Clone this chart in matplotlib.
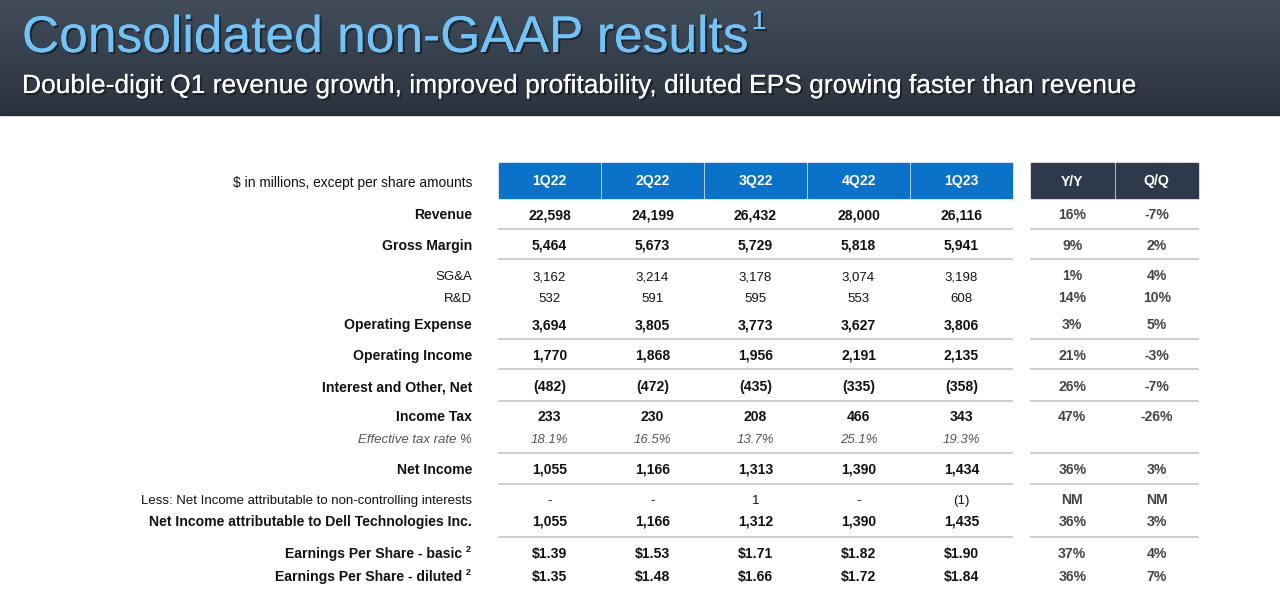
import numpy as np
import matplotlib
matplotlib.use('Agg')
import matplotlib.pyplot as plt
from matplotlib.patches import Rectangle
from matplotlib.colors import LinearSegmentedColormap
import matplotlib.patheffects as pe

plt.rcParams['font.family'] = ['Liberation Sans', 'DejaVu Sans']

#%% Data
title = 'Consolidated non-GAAP results'
subtitle = 'Double-digit Q1 revenue growth, improved profitability, diluted EPS growing faster than revenue'
unit_note = '$ in millions, except per share amounts'
quarters = ['1Q22', '2Q22', '3Q22', '4Q22', '1Q23']
change_cols = ['Y/Y', 'Q/Q']

row_labels = ['Revenue', 'Gross Margin', 'SG&A', 'R&D', 'Operating Expense',
              'Operating Income', 'Interest and Other, Net', 'Income Tax',
              'Effective tax rate %', 'Net Income',
              'Less: Net Income attributable to non-controlling interests',
              'Net Income attributable to Dell Technologies Inc.',
              'Earnings Per Share - basic', 'Earnings Per Share - diluted']
row_style = ['bold', 'bold', 'normal', 'normal', 'bold', 'bold', 'bold', 'bold',
             'italic', 'bold', 'normal', 'bold', 'bold', 'bold']
row_kind = ['int', 'int', 'int', 'int', 'int', 'int', 'int', 'int',
            'pct', 'int', 'int', 'int', 'eps', 'eps']
footnote_rows = ['Earnings Per Share - basic', 'Earnings Per Share - diluted']

revenue = [22598, 24199, 26432, 28000, 26116]
gross_margin = [5464, 5673, 5729, 5818, 5941]
sga = [3162, 3214, 3178, 3074, 3198]
rnd = [532, 591, 595, 553, 608]
opex = [3694, 3805, 3773, 3627, 3806]
op_income = [1770, 1868, 1956, 2191, 2135]
interest_other = [-482, -472, -435, -335, -358]
income_tax = [233, 230, 208, 466, 343]
eff_tax_rate = [18.1, 16.5, 13.7, 25.1, 19.3]
net_income = [1055, 1166, 1313, 1390, 1434]
nci = [0, 0, 1, 0, -1]
net_income_dell = [1055, 1166, 1312, 1390, 1435]
eps_basic = [1.39, 1.53, 1.71, 1.82, 1.90]
eps_diluted = [1.35, 1.48, 1.66, 1.72, 1.84]

yy_change = ['16%', '9%', '1%', '14%', '3%', '21%', '26%', '47%', '', '36%', 'NM', '36%', '37%', '36%']
qq_change = ['-7%', '2%', '4%', '10%', '5%', '-3%', '-7%', '-26%', '', '3%', 'NM', '3%', '4%', '7%']

table = [revenue, gross_margin, sga, rnd, opex, op_income, interest_other, income_tax,
         eff_tax_rate, net_income, nci, net_income_dell, eps_basic, eps_diluted]

#%% Layout (pixels)
W, H = 1280, 598
row_y = [214, 245, 275, 297, 324, 355, 386, 416, 438, 469, 499, 521, 553, 576]
sep_y = [229, 259, 339, 369, 401, 453, 484, 537]
q_left, q_w = 498, 103
c_left, c_w = 1030, 84.5
label_x = 472
fs_bold = 10.1
fs_reg = 9.5
base_off = 5   # baseline sits this many px below the row centre

def fmt(v, kind):
    if kind == 'pct':
        return f'{v:.1f}%'
    if kind == 'eps':
        return f'${v:.2f}'
    if v == 0:
        return '-'
    if v < 0:
        return f'({-v:,})'
    return f'{v:,}'

fig = plt.figure(figsize=(W / 100, H / 100), dpi=100)
ax = fig.add_axes([0, 0, 1, 1])
ax.set_xlim(0, W)
ax.set_ylim(H, 0)
ax.axis('off')

# header band gradient
grad = np.linspace(0, 1, 114)[:, None] * np.ones((1, 2))
band_cmap = LinearSegmentedColormap.from_list('band', ['#434d59', '#36404c', '#2b333e'])
ax.imshow(grad, extent=(0, W, 114, 0), cmap=band_cmap, aspect='auto', zorder=0)
ax.add_patch(Rectangle((0, 113), W, 2, color='#252c35', zorder=1))

shadow = [pe.withSimplePatchShadow(offset=(1.5, -1.5), shadow_rgbFace='#15191f', alpha=0.7), pe.Normal()]
t = ax.text(22, 52, title, fontsize=37.1, color='#72c3f7', va='baseline', ha='left', path_effects=shadow)
fig.canvas.draw()
bb = t.get_window_extent()
ax.text(bb.x1 + 3, 29, '1', fontsize=19, color='#72c3f7', va='baseline', ha='left', path_effects=shadow)
ax.text(22, 93, subtitle, fontsize=19.0, color='white', va='baseline', ha='left', path_effects=shadow)

# column headers
hy0, hy1 = 163, 198
hmid = (hy0 + hy1) / 2
for i, q in enumerate(quarters):
    ax.add_patch(Rectangle((q_left + i * q_w + 1, hy0), q_w - 2, hy1 - hy0, color='#0b72c9', zorder=2))
    ax.text(q_left + i * q_w + q_w / 2, hmid + base_off, q, color='white', fontsize=fs_bold,
            fontweight='bold', ha='center', va='baseline', zorder=3)
for i, c in enumerate(change_cols):
    ax.add_patch(Rectangle((c_left + i * c_w + 1, hy0), c_w - 2, hy1 - hy0, color='#2e3a4b', zorder=2))
    ax.text(c_left + i * c_w + c_w / 2, hmid + base_off, c, color='white', fontsize=fs_bold,
            fontweight='bold', ha='center', va='baseline', zorder=3)
ax.text(label_x, hmid + base_off + 1, unit_note, fontsize=9.9, ha='right', va='baseline', color='#111111')

# rows
for r, (lab, style, kind, vals) in enumerate(zip(row_labels, row_style, row_kind, table)):
    y = row_y[r] + base_off
    weight = 'bold' if style == 'bold' else 'normal'
    fstyle = 'italic' if style == 'italic' else 'normal'
    col = '#555555' if style == 'italic' else '#111111'
    fs = fs_bold if style == 'bold' else fs_reg
    lx = label_x
    if lab in footnote_rows:
        lx = label_x - 10
        ax.text(label_x - 4, y - 6, '2', fontsize=6.5, fontweight='bold', ha='center', va='baseline', color=col)
    ax.text(lx, y, lab, fontsize=fs, fontweight=weight, style=fstyle, ha='right', va='baseline', color=col)
    for i, v in enumerate(vals):
        ax.text(q_left + i * q_w + q_w / 2, y, fmt(v, kind), fontsize=fs, fontweight=weight,
                style=fstyle, ha='center', va='baseline', color=col)
    for i, v in enumerate([yy_change[r], qq_change[r]]):
        ax.text(c_left + i * c_w + c_w / 2, y, v, fontsize=fs_bold, fontweight='bold',
                ha='center', va='baseline', color='#454545')

# separators
for y in sep_y:
    ax.plot([q_left, q_left + 5 * q_w], [y, y], color='#c6c6c6', lw=1.2, solid_capstyle='butt')
    ax.plot([c_left, c_left + 2 * c_w], [y, y], color='#c6c6c6', lw=1.2, solid_capstyle='butt')

fig.savefig('out.png', dpi=100)
